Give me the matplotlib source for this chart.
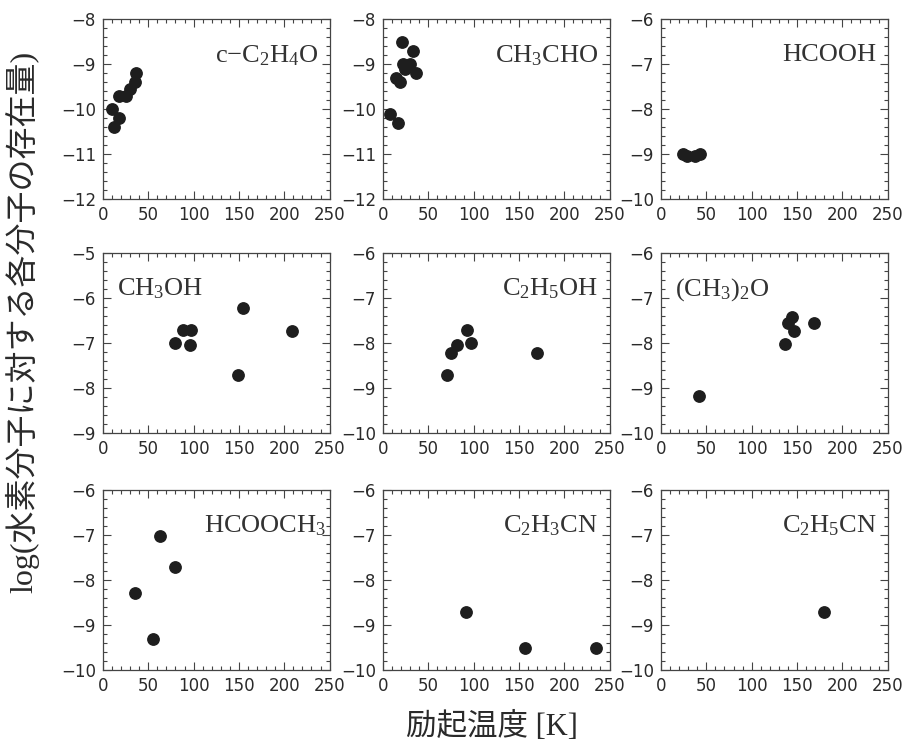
import matplotlib
matplotlib.use("Agg")
import matplotlib.pyplot as plt
from matplotlib.ticker import MultipleLocator

plt.rcParams['font.family'] = ['DejaVu Sans', 'Noto Sans CJK JP']
plt.rcParams['mathtext.fontset'] = 'custom'
plt.rcParams['mathtext.rm'] = 'Liberation Serif'
plt.rcParams['mathtext.it'] = 'Liberation Serif'

# ---- data ----
names = [r'c$-$C$_2$H$_4$O', r'CH$_3$CHO', 'HCOOH',
         r'CH$_3$OH', r'C$_2$H$_5$OH', r'(CH$_3$)$_2$O',
         r'HCOOCH$_3$', r'C$_2$H$_3$CN', r'C$_2$H$_5$CN']

x_cc2h4o = [10, 12, 18, 18, 25, 30, 35, 37]
y_cc2h4o = [-10.0, -10.4, -10.2, -9.7, -9.7, -9.55, -9.4, -9.2]

x_ch3cho = [8, 17, 15, 19, 21, 22, 24, 30, 33, 36]
y_ch3cho = [-10.1, -10.3, -9.3, -9.4, -8.5, -9.0, -9.1, -9.0, -8.7, -9.2]

x_hcooh = [24, 29, 37, 43]
y_hcooh = [-9.0, -9.05, -9.05, -9.0]

x_ch3oh = [80, 88, 97, 96, 149, 154, 209]
y_ch3oh = [-7.0, -6.7, -6.7, -7.05, -7.7, -6.22, -6.72]

x_c2h5oh = [71, 75, 82, 93, 97, 170]
y_c2h5oh = [-8.72, -8.23, -8.05, -7.7, -8.0, -8.23]

x_ch32o = [42, 137, 140, 145, 147, 169]
y_ch32o = [-9.18, -8.02, -7.55, -7.43, -7.72, -7.55]

x_hcooch3 = [35, 55, 63, 80]
y_hcooch3 = [-8.28, -9.3, -7.03, -7.7]

x_c2h3cn = [92, 157, 235]
y_c2h3cn = [-8.71, -9.52, -9.52]

x_c2h5cn = [180]
y_c2h5cn = [-8.72]

xs = [x_cc2h4o, x_ch3cho, x_hcooh, x_ch3oh, x_c2h5oh, x_ch32o, x_hcooch3, x_c2h3cn, x_c2h5cn]
ys = [y_cc2h4o, y_ch3cho, y_hcooh, y_ch3oh, y_c2h5oh, y_ch32o, y_hcooch3, y_c2h3cn, y_c2h5cn]
ylims = [(-12, -8), (-12, -8), (-10, -6),
         (-9, -5), (-10, -6), (-10, -6),
         (-10, -6), (-10, -6), (-10, -6)]
x_ticks = [0, 50, 100, 150, 200, 250]

# label placement: (x frac, y frac, ha)
label_pos = [(0.95, 0.80, 'right'), (0.95, 0.80, 'right'), (0.95, 0.80, 'right'),
             (0.06, 0.80, 'left'), (0.95, 0.80, 'right'), (0.06, 0.80, 'left'),
             (0.985, 0.80, 'right'), (0.95, 0.80, 'right'), (0.95, 0.80, 'right')]

fig = plt.figure(figsize=(9.03, 7.46), dpi=100)
fig.patch.set_facecolor('white')

col_left = [0.114, 0.424, 0.732]
row_bottom = [0.733, 0.4196, 0.1019]
w, h = 0.251, 0.241
ink = '#2a2a2a'

for i in range(9):
    r, c = divmod(i, 3)
    ax = fig.add_axes([col_left[c], row_bottom[r], w, h])
    ax.plot(xs[i], ys[i], 'o', ms=8.2, color='#1e1e1e', mec='#1e1e1e')
    ax.set_xlim(0, 250)
    ax.set_ylim(*ylims[i])
    ax.set_xticks(x_ticks)
    ax.xaxis.set_minor_locator(MultipleLocator(10))
    ax.yaxis.set_major_locator(MultipleLocator(1))
    ax.yaxis.set_minor_locator(MultipleLocator(0.2))
    ax.tick_params(which='both', direction='in', top=True, right=True,
                   color='#444444', width=0.8, labelsize=12, labelcolor=ink)
    ax.tick_params(which='major', length=6, pad=5)
    ax.tick_params(which='minor', length=3)
    for s in ax.spines.values():
        s.set_color('#444444')
        s.set_linewidth(0.9)
    lx, ly, ha = label_pos[i]
    ax.text(lx, ly, names[i], transform=ax.transAxes, ha=ha, va='center',
            fontsize=19, color='#333333', family='Liberation Serif')

fig.text(0.025, 0.568, 'log(水素分子に対する各分子の存在量)', rotation=90,
         ha='center', va='center', fontsize=23, color=ink,
         family=['Liberation Serif', 'Noto Sans CJK JP'])
fig.text(0.545, 0.006, '励起温度 [K]', ha='center', va='bottom', fontsize=22,
         color=ink, family=['Liberation Serif', 'Noto Sans CJK JP'])

fig.savefig('out.png', dpi=100, facecolor='white')
